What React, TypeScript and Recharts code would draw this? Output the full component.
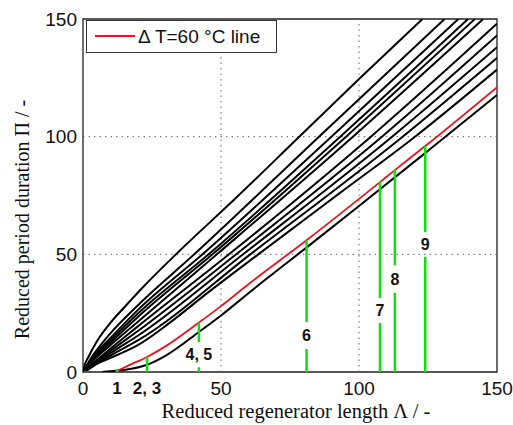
import React from "react";
import {
  LineChart,
  Line,
  XAxis,
  YAxis,
  ReferenceLine,
  ReferenceArea,
  ReferenceDot,
  Legend,
} from "recharts";

// black iso-lines, [Λ, Π] pairs (top curve first)
const curve0 = [[0, 0], [0.5, 2.5], [2, 6.5], [5, 13], [10, 21], [15, 27.5], [21.7, 36], [35, 51.5], [55, 73.5], [77.5, 99], [100, 124.5], [123, 150]];
const curve1 = [[0.5, 1], [3, 6], [10, 16.5], [20, 28.5], [40.3, 50], [85.5, 100], [131, 150]];
const curve2 = [[0.5, 1], [3, 5.5], [10, 14.5], [20, 26.5], [43.3, 50], [90, 100], [136, 150]];
const curve3 = [[0.5, 0.8], [3, 5], [10, 13.5], [20, 25], [45.5, 50], [93.2, 100], [139.5, 150]];
const curve4 = [[0.5, 0.8], [3, 4.5], [10, 12.5], [20, 23.5], [46.9, 50], [95.3, 100], [142, 150]];
const curve5 = [[0.5, 0.7], [3, 4], [10, 11.5], [20, 21.5], [48.5, 50], [97.8, 100], [145, 150]];
const curve6 = [[1, 1], [4, 4], [10, 10], [20, 19.5], [52.9, 50], [104.3, 100], [150, 148]];
const curve7 = [[1, 0.8], [4, 3.5], [10, 9], [20, 17.5], [55.5, 50], [108.3, 100], [150, 143]];
const curve8 = [[1, 0.7], [4, 3], [10, 8], [20, 15.5], [58, 50], [112, 100], [150, 138]];
const curve9 = [[1.5, 0.7], [5, 3.5], [10, 7], [20, 13.5], [60.6, 50], [115.8, 100], [150, 133.5]];
const curve10 = [[1.5, 1], [5, 3.5], [10, 6], [20, 11.5], [31.5, 21], [45, 33.5], [63.5, 50], [93, 76], [120.3, 100], [150, 128.5]];
const curveLow = [[7, 0], [12, 0.5], [18, 1.5], [23, 3], [30, 7], [42, 17], [50, 24], [60.5, 34], [80, 52], [100, 70.5], [125, 94], [150, 117.7]];
const blackCurves = [curve0, curve1, curve2, curve3, curve4, curve5, curve6, curve7, curve8, curve9, curve10, curveLow];

// ΔT = 60 °C line
const redCurve = [[12.5, 0.5], [16, 2.5], [23.2, 6.4], [30, 11], [42, 21], [50, 28], [60.5, 37.8], [81, 56], [107.6, 80.7], [113, 85.8], [124, 96], [150, 121]];
const legendLabel = "\u0394 T=60 \u00b0C line";

// green markers
const greenNames = ["1", "2, 3", "4, 5", "6", "7", "8", "9"];
const greenLambda = [12.3, 23.2, 42, 81, 107.6, 113, 124];
const greenTop = [1.2, 6.4, 21, 56, 80.7, 85.8, 96];
const gapLow = [null, null, 2, 9.8, 20.8, 33.6, 49];
const gapHigh = [null, null, 12.7, 21.2, 31.4, 45.5, 59.5];

const axisTicks = [0, 50, 100, 150];
const gridValues = [50, 100];

const toPoints = (pairs: number[][]) => pairs.map(([x, y]) => ({ x, y }));

const greenData = greenLambda.map((x, i) =>
  gapLow[i] == null
    ? [{ x, y: 0 }, { x, y: greenTop[i] }]
    : [
        { x, y: 0 },
        { x, y: gapLow[i] },
        { x, y: null },
        { x, y: gapHigh[i] },
        { x, y: greenTop[i] },
      ]
);

const sans = "'Liberation Sans', Arial, sans-serif";
const serif = "'Liberation Serif', 'Times New Roman', serif";

function XTick(props: any) {
  const { x, y, payload } = props;
  const idx = greenLambda.indexOf(payload.value);
  if (idx >= 0) {
    return (
      <text x={x} y={y} dy="0.71em" textAnchor="middle" fontFamily={sans} fontSize={17} fontWeight="bold" fill="#111">
        {greenNames[idx]}
      </text>
    );
  }
  return (
    <text x={x} y={y} dy="0.71em" textAnchor="middle" fontFamily={sans} fontSize={19} fill="#111">
      {payload.value}
    </text>
  );
}

function LegendBox() {
  return (
    <div
      style={{
        width: 191,
        height: 33,
        border: "1px solid #333",
        background: "#fff",
        boxSizing: "border-box",
        display: "flex",
        alignItems: "center",
        fontFamily: sans,
        fontSize: 19,
        color: "#111",
        whiteSpace: "nowrap",
      }}
    >
      <svg width={51} height={31}>
        <line x1={8} x2={48} y1={15} y2={15} stroke="#e8141c" strokeWidth={2} />
      </svg>
      <span>{legendLabel}</span>
    </div>
  );
}

export default function App() {
  return (
    <div style={{ position: "absolute", left: 0, top: 0, width: 513, height: 425, background: "#fff" }}>
      <LineChart width={513} height={425} margin={{ top: 19, right: 16, bottom: 23, left: 23 }}>
        <XAxis
          type="number"
          dataKey="x"
          domain={[0, 150]}
          ticks={[...axisTicks, greenLambda[0], greenLambda[1]]}
          interval={0}
          allowDataOverflow
          axisLine={false}
          tickLine={false}
          tickSize={8}
          tickMargin={2}
          height={30}
          tick={<XTick />}
          label={{
            content: ({ viewBox }: any) => (
              <text
                x={viewBox.x + viewBox.width / 2 + 6}
                y={viewBox.y + 46}
                textAnchor="middle"
                fontFamily={serif}
                fontSize={20.5}
                fill="#111"
              >
                Reduced regenerator length Λ / -
              </text>
            ),
          }}
        />
        <YAxis
          type="number"
          dataKey="y"
          domain={[0, 150]}
          ticks={axisTicks}
          interval={0}
          allowDataOverflow
          axisLine={false}
          tickLine={false}
          tickSize={4}
          tickMargin={2}
          width={60}
          tick={{ fontFamily: sans, fontSize: 19, fill: "#111" }}
          label={{
            content: ({ viewBox }: any) => {
              const cx = viewBox.x - 1;
              const cy = viewBox.y + viewBox.height / 2 + 24;
              return (
                <text
                  x={cx}
                  y={cy}
                  dy="0.35em"
                  textAnchor="middle"
                  transform={`rotate(-90, ${cx}, ${cy})`}
                  fontFamily={serif}
                  fontSize={20}
                  fill="#111"
                >
                  Reduced period duration Π / -
                </text>
              );
            },
          }}
        />
        {gridValues.map((v) => (
          <ReferenceLine key={`gx${v}`} x={v} stroke="#666" strokeDasharray="1.5 4" />
        ))}
        {gridValues.map((v) => (
          <ReferenceLine key={`gy${v}`} y={v} stroke="#666" strokeDasharray="1.5 4" />
        ))}
        {blackCurves.map((c, i) => (
          <Line
            key={`black${i}`}
            data={toPoints(c)}
            dataKey="y"
            type="monotone"
            stroke="#000"
            strokeWidth={2}
            dot={false}
            activeDot={false}
            legendType="none"
            isAnimationActive={false}
          />
        ))}
        <Line
          data={toPoints(redCurve)}
          dataKey="y"
          name={legendLabel}
          type="monotone"
          stroke="#e8141c"
          strokeWidth={1.8}
          dot={false}
          activeDot={false}
          isAnimationActive={false}
        />
        {greenData.map((d, i) => (
          <Line
            key={`green${i}`}
            data={d}
            dataKey="y"
            type="linear"
            stroke="#11dd11"
            strokeWidth={2.5}
            dot={false}
            activeDot={false}
            legendType="none"
            isAnimationActive={false}
          />
        ))}
        {greenNames.map((name, i) =>
          gapLow[i] == null ? null : (
            <ReferenceDot
              key={`lbl${i}`}
              x={greenLambda[i]}
              y={((gapLow[i] as number) + (gapHigh[i] as number)) / 2}
              r={0}
              fill="none"
              stroke="none"
              label={{ value: name, position: "center", fontFamily: sans, fontSize: 16, fontWeight: "bold", fill: "#111" }}
            />
          )
        )}
        <ReferenceArea x1={0} x2={150} y1={0} y2={150} fill="none" stroke="#222" strokeWidth={1.3} />
        <Legend
          layout="vertical"
          align="center"
          verticalAlign="middle"
          wrapperStyle={{ left: 86, top: 20, width: 191, height: 33 }}
          content={() => <LegendBox />}
        />
      </LineChart>
    </div>
  );
}
